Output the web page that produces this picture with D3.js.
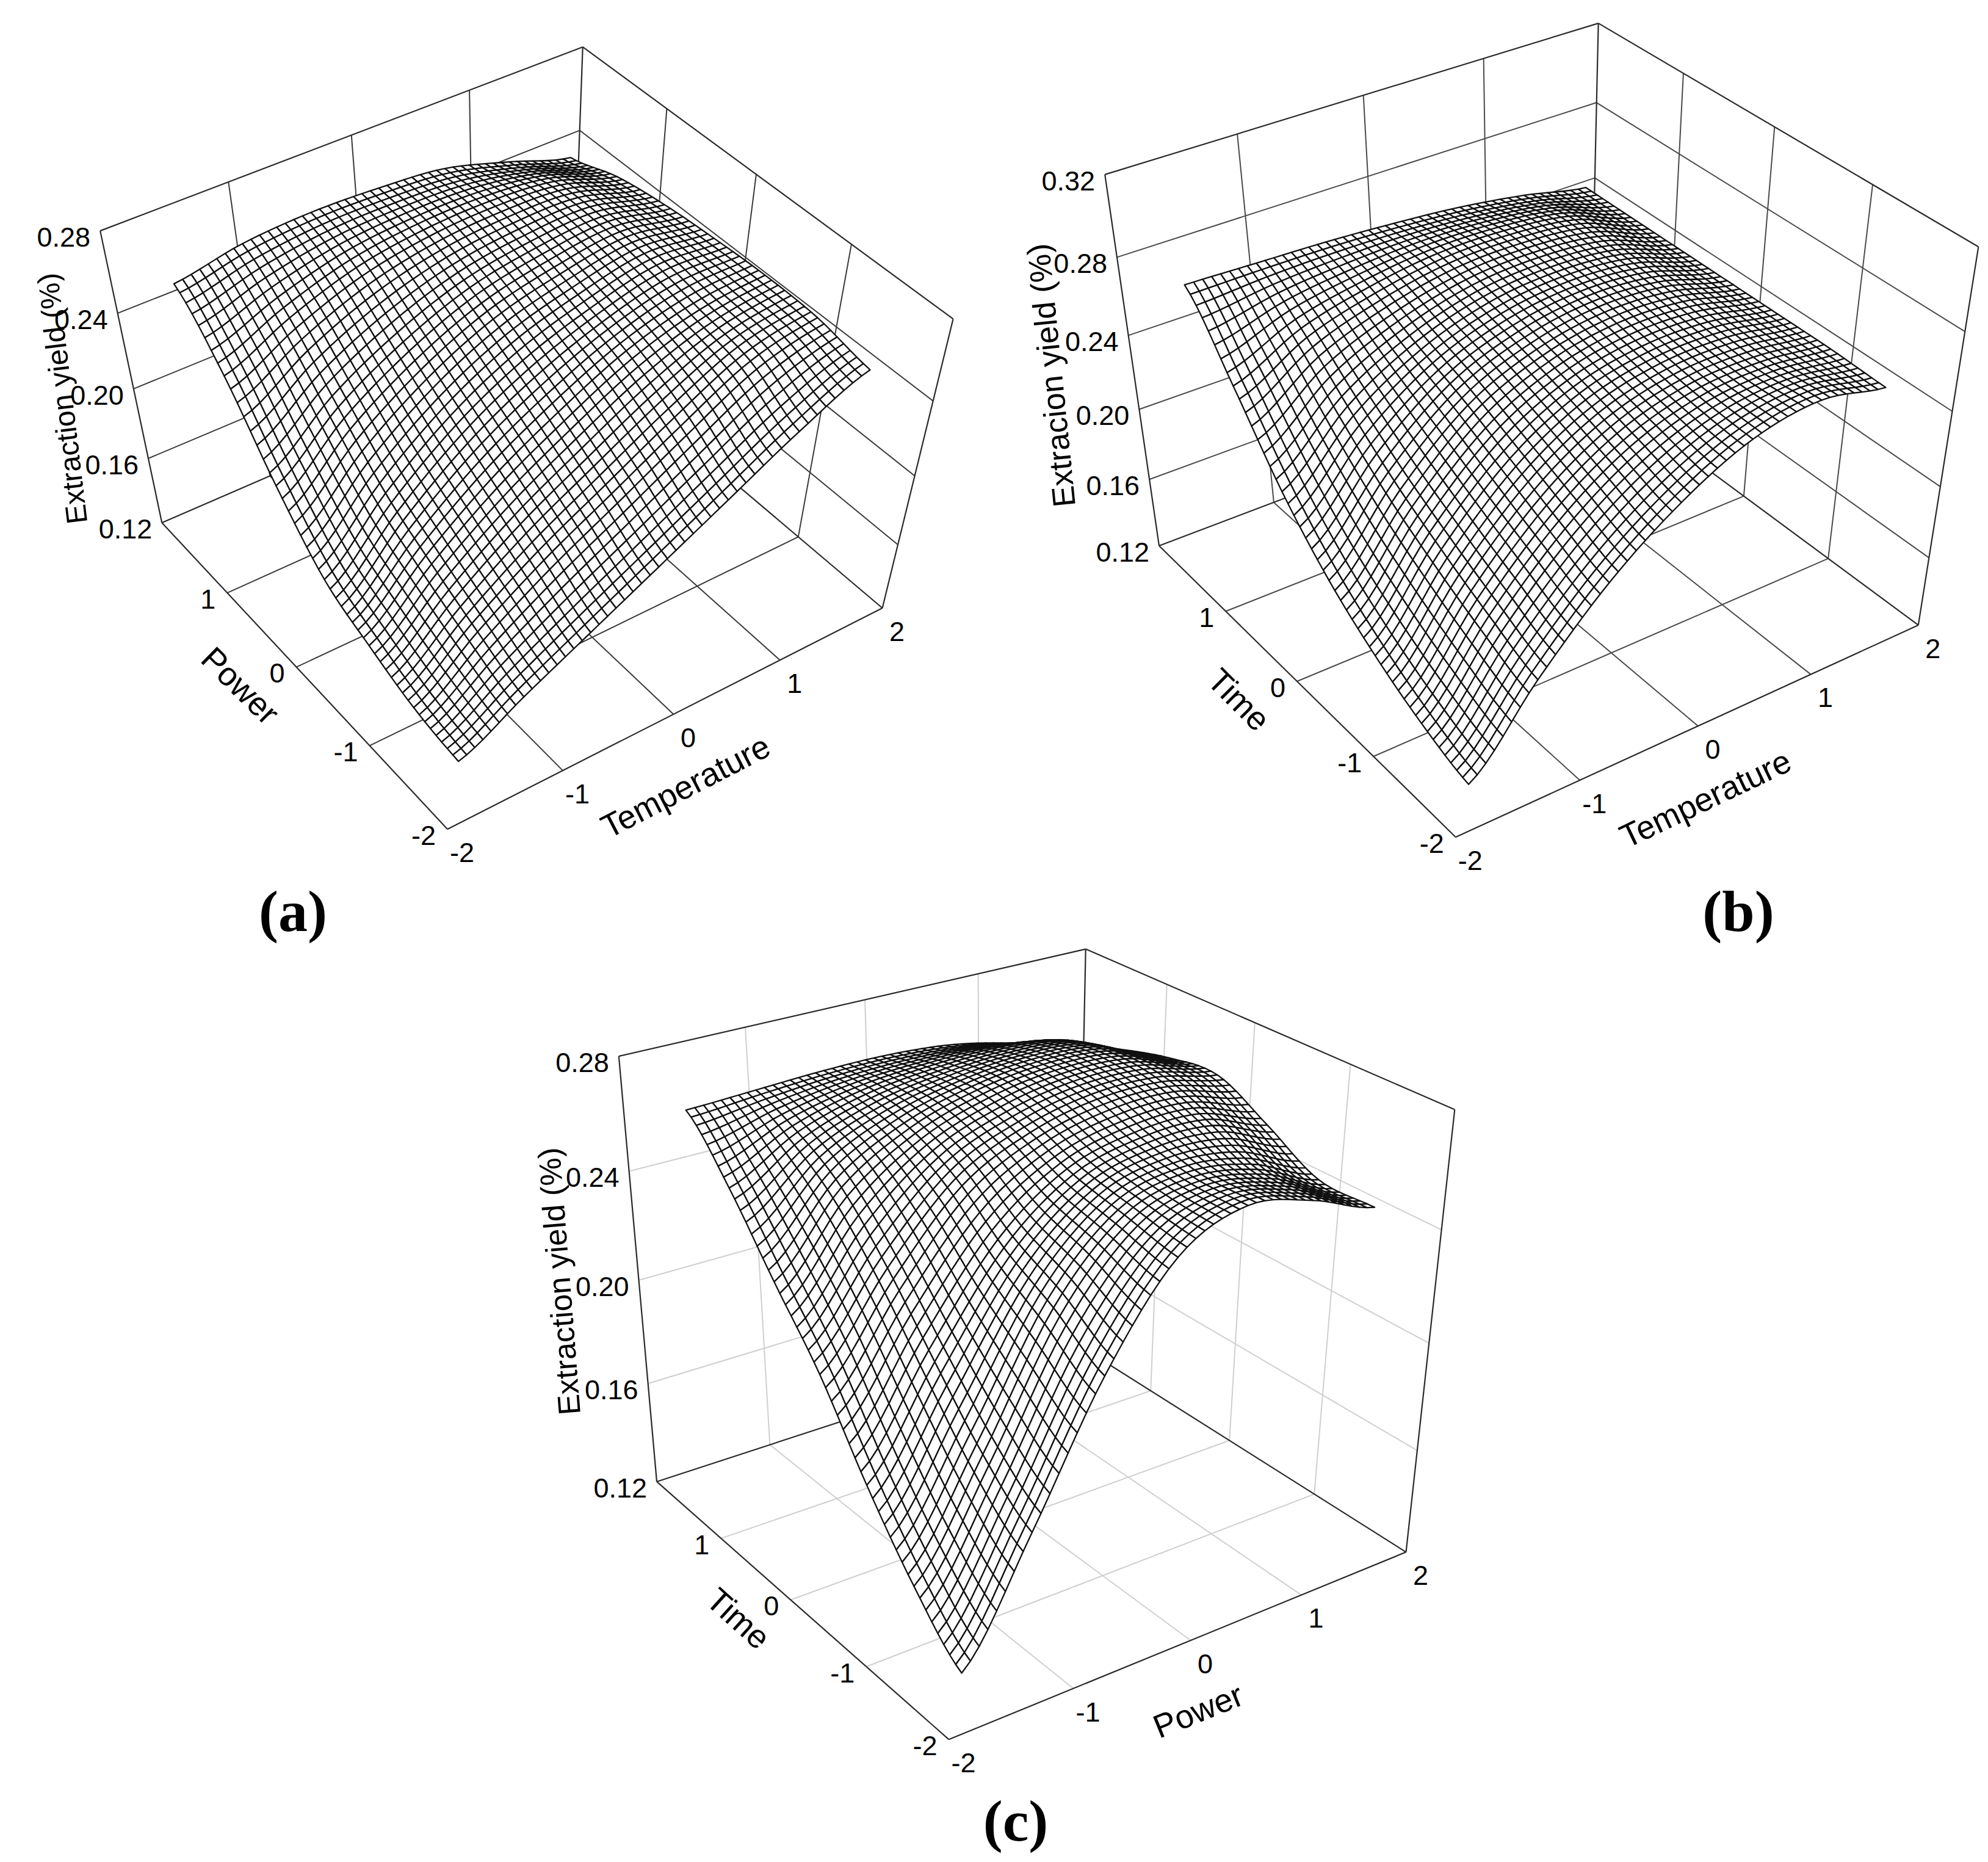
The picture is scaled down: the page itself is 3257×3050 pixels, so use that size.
<!DOCTYPE html>
<html><head><meta charset="utf-8">
<script src="https://cdn.jsdelivr.net/npm/d3@7/dist/d3.min.js"></script>
<style>html,body{margin:0;background:#fff}svg{display:block}text{font-family:"Liberation Sans",Arial,sans-serif;fill:#000}</style>
</head><body><svg id="c" width="3257" height="3050"></svg>
<script>
// ---- data ----
const axisTicks = [-2,-1,0,1,2];
const surfaceNodes = [-1.68,-1.12,-0.56,0,0.56,1.12,1.68];
const zTicksA = [0.12,0.16,0.20,0.24,0.28];
const zTicksB = [0.12,0.16,0.20,0.24,0.28,0.32];
const zTicksC = [0.12,0.16,0.20,0.24,0.28];
// rows: second factor from -1.68 to 1.68; columns: first factor from -1.68 to 1.68
const yieldA = [
 [.135,.156,.176,.196,.216,.236,.252],
 [.140,.168,.192,.212,.232,.250,.257],
 [.151,.182,.208,.228,.245,.255,.258],
 [.165,.198,.224,.242,.253,.260,.257],
 [.195,.222,.241,.254,.260,.262,.255],
 [.232,.247,.258,.263,.264,.261,.251],
 [.258,.264,.266,.265,.262,.253,.243]];
const yieldB = [
 [.125,.168,.205,.232,.250,.256,.249],
 [.135,.180,.216,.240,.252,.254,.250],
 [.150,.194,.228,.248,.256,.256,.250],
 [.170,.210,.240,.255,.261,.259,.250],
 [.198,.230,.250,.261,.264,.261,.250],
 [.235,.252,.261,.266,.266,.262,.250],
 [.269,.268,.267,.265,.262,.257,.250]];
const yieldC = [
 [.130,.172,.218,.250,.260,.255,.246],
 [.148,.187,.230,.254,.260,.256,.246],
 [.172,.208,.240,.258,.264,.264,.256],
 [.200,.230,.254,.265,.270,.270,.265],
 [.222,.248,.262,.269,.272,.271,.263],
 [.245,.258,.265,.268,.269,.267,.258],
 [.263,.264,.265,.265,.263,.258,.252]];

// ---- layout ----
const MESH = 48;
const panels = [
 {values:yieldA, zTicks:zTicksA, grid:"#3a3a3a", tag:"a", tagAt:[480,1493],
  box:{LT:[161,376],LB:[268,860],BT:[959,81],BB:[933,560],RT:[1560,520],RB:[1447,1000],F:[733,1356]},
  titles:[{t:"Extraction yield (%)",at:[102,653],r:-96.8,s:48},{t:"Power",at:[394,1123],r:44.5,s:54},{t:"Temperature",at:[1123,1288],r:-27.4,s:54}]},
 {values:yieldB, zTicks:zTicksB, grid:"#4a4a4a", tag:"b", tagAt:[2848,1493],
  box:{LT:[1809,286],LB:[1899,895],BT:[2620,40],BB:[2605,624],RT:[3241,402],RB:[3142,1027],F:[2386,1370]},
  titles:[{t:"Extracion yield (%)",at:[1722,615],r:-95.8,s:52},{t:"Time",at:[2030,1146],r:45,s:54},{t:"Temperature",at:[2794,1308],r:-25.5,s:54}]},
 {values:yieldC, zTicks:zTicksC, grid:"#cfcfcf", tag:"c", tagAt:[1664,2983],
  box:{LT:[1011,1729],LB:[1079,2429],BT:[1784,1556],BB:[1760,2200],RT:[2380,1817],RB:[2307,2544],F:[1554,2848]},
  titles:[{t:"Extraction yield (%)",at:[916,2099],r:-94.5,s:51},{t:"Time",at:[1210,2651],r:42,s:54},{t:"Power",at:[1963,2802],r:-22,s:54}]}
];

function solve(A,b){const n=b.length,M=A.map((r,i)=>[...r,b[i]]);
 for(let i=0;i<n;i++){let p=i;for(let k=i+1;k<n;k++)if(Math.abs(M[k][i])>Math.abs(M[p][i]))p=k;
  [M[i],M[p]]=[M[p],M[i]];
  for(let k=i+1;k<n;k++){const f=M[k][i]/M[i][i];for(let j=i;j<=n;j++)M[k][j]-=f*M[i][j];}}
 const x=Array(n).fill(0);
 for(let i=n-1;i>=0;i--){let s=M[i][n];for(let j=i+1;j<n;j++)s-=M[i][j]*x[j];x[i]=s/M[i][i];}
 return x;}
function camera(box){
 const pts=[[0,1,0,box.LB],[0,1,1,box.LT],[1,1,0,box.BB],[1,1,1,box.BT],[1,0,0,box.RB],[1,0,1,box.RT],[0,0,0,box.F]];
 const rows=[],rhs=[];
 pts.forEach(([u,v,w,[px,py]])=>{const X=px/1000,Y=py/1000;
  rows.push([u,v,w,1,0,0,0,0,-X*u,-X*v,-X*w]);rhs.push(X);
  rows.push([0,0,0,0,u,v,w,1,-Y*u,-Y*v,-Y*w]);rhs.push(Y);});
 const AtA=d3.range(11).map(i=>d3.range(11).map(j=>d3.sum(rows,r=>r[i]*r[j])));
 const Atb=d3.range(11).map(i=>d3.sum(rows,(r,k)=>r[i]*rhs[k]));
 const h=solve(AtA,Atb);
 return (u,v,w)=>{const d=h[8]*u+h[9]*v+h[10]*w+1;
  return [1000*(h[0]*u+h[1]*v+h[2]*w+h[3])/d,1000*(h[4]*u+h[5]*v+h[6]*w+h[7])/d];};
}
function cr(p,t){const n=p.length-1,s=Math.min(Math.max(t,0),1)*n,i=Math.min(Math.floor(s),n-1),f=s-i;
 const a=p[Math.max(i-1,0)],b=p[i],c=p[i+1],d=p[Math.min(i+2,n)];
 return .5*(2*b+(c-a)*f+(2*a-5*b+4*c-d)*f*f+(3*b-a-3*c+d)*f*f*f);}
const surfaceAt=(tbl,tx,ty)=>cr(tbl.map(r=>cr(r,tx)),ty);

const svg=d3.select("#c");
const EDGE="#2a2a2a";
panels.forEach(P=>{
 const g=svg.append("g");
 const cam=camera(P.box);
 const xS=d3.scaleLinear().domain([-2,2]).range([0,1]);
 const zS=d3.scaleLinear().domain(d3.extent(P.zTicks)).range([0,1]);
 const px=(x,y,z)=>cam(xS(x),xS(y),zS(z));
 const z0=zS.domain()[0],z1=zS.domain()[1];
 const seg=(a,b,col,w)=>g.append("line").attr("x1",a[0]).attr("y1",a[1]).attr("x2",b[0]).attr("y2",b[1]).attr("stroke",col).attr("stroke-width",w);
 [-1,0,1].forEach(t=>{
  seg(px(t,-2,z0),px(t,2,z0),P.grid,2); seg(px(-2,t,z0),px(2,t,z0),P.grid,2);
  seg(px(t,2,z0),px(t,2,z1),P.grid,2); seg(px(2,t,z0),px(2,t,z1),P.grid,2);
 });
 P.zTicks.slice(1,-1).forEach(z=>{seg(px(-2,2,z),px(2,2,z),P.grid,2);seg(px(2,2,z),px(2,-2,z),P.grid,2);});
 [[[-2,-2,z0],[2,-2,z0]],[[-2,-2,z0],[-2,2,z0]],[[-2,2,z0],[2,2,z0]],[[2,2,z0],[2,-2,z0]],
  [[-2,2,z0],[-2,2,z1]],[[2,2,z0],[2,2,z1]],[[2,-2,z0],[2,-2,z1]],
  [[-2,2,z1],[2,2,z1]],[[2,2,z1],[2,-2,z1]]].forEach(([a,b])=>seg(px(...a),px(...b),EDGE,2.2));
 const tt=d3.range(MESH+1).map(i=>i/MESH);
 const span=d3.scaleLinear().domain([0,1]).range(d3.extent(surfaceNodes));
 const V=tt.map(ty=>tt.map(tx=>px(span(tx),span(ty),surfaceAt(P.values,tx,ty))));
 const cells=[];
 for(let j=MESH-1;j>=0;j--)for(let i=MESH-1;i>=0;i--)cells.push([V[j][i],V[j][i+1],V[j+1][i+1],V[j+1][i]]);
 const ln=d3.line().curve(d3.curveLinearClosed);
 g.append("g").selectAll("path").data(cells).join("path").attr("d",ln)
  .attr("fill","#fff").attr("stroke","#111").attr("stroke-width",2.3).attr("stroke-linejoin","round");
 const lab=(p,t,dx,dy,anc)=>g.append("text").attr("x",p[0]+dx).attr("y",p[1]+dy).attr("dy",".35em")
   .attr("text-anchor",anc).attr("font-size",45).text(t);
 P.zTicks.forEach(z=>lab(px(-2,2,z),d3.format(".2f")(z),-16,10,"end"));
 axisTicks.slice(0,-1).forEach(t=>lab(px(-2,t,z0),d3.format("d")(t).replace("\u2212","-"),-19,10,"end"));
 axisTicks.forEach(t=>lab(px(t,-2,z0),d3.format("d")(t).replace("\u2212","-"),24,38,"middle"));
 P.titles.forEach(T=>g.append("text").attr("transform",`translate(${T.at[0]},${T.at[1]}) rotate(${T.r})`)
   .attr("text-anchor","middle").attr("dy",".35em").attr("font-size",T.s).text(T.t));
 g.append("text").attr("x",P.tagAt[0]).attr("y",P.tagAt[1]).attr("dy",".33em").attr("text-anchor","middle")
   .style("font-family","'Liberation Serif',serif").attr("font-size",96).attr("font-weight","bold").text(`(${P.tag})`);
});
</script></body></html>
